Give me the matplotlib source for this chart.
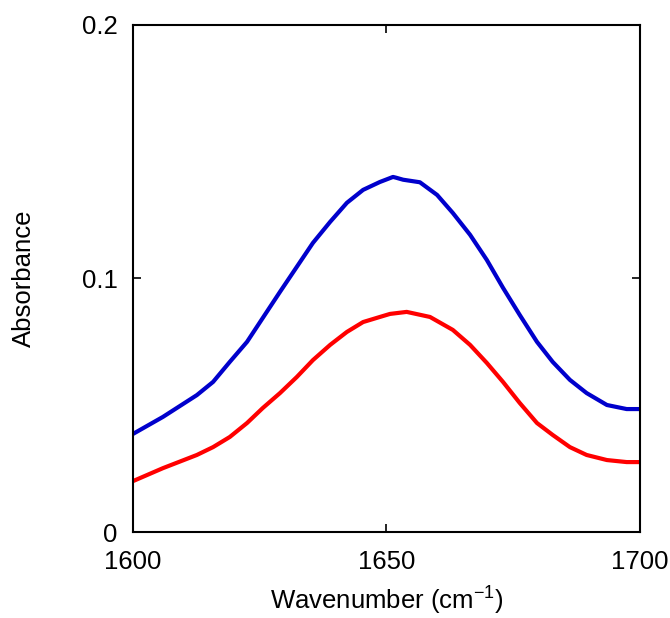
import numpy as np
import matplotlib

matplotlib.use('Agg')
import matplotlib.pyplot as plt

plt.rcParams['font.family'] = ['Liberation Sans', 'DejaVu Sans']
plt.rcParams['font.size'] = 18.5
plt.rcParams['mathtext.default'] = 'regular'
plt.rcParams['xtick.direction'] = 'in'
plt.rcParams['ytick.direction'] = 'in'
plt.rcParams['xtick.top'] = True
plt.rcParams['ytick.right'] = True
plt.rcParams['axes.linewidth'] = 1.5

# blue spectrum
wn_blue = [1600, 1605.9, 1612.6, 1615.8, 1619.1, 1622.5, 1625.6, 1629.0, 1632.3,
           1635.5, 1638.9, 1642.2, 1645.4, 1648.7, 1651.3, 1651.9, 1653.3, 1656.6,
           1660.0, 1663.1, 1666.5, 1669.8, 1673.0, 1676.3, 1679.7, 1682.8, 1686.2,
           1689.5, 1693.5, 1697.4, 1700]
abs_blue = [0.0387, 0.0454, 0.0540, 0.0592, 0.0671, 0.0750, 0.0844, 0.0947, 0.1045,
            0.1140, 0.1223, 0.1298, 0.1349, 0.1380, 0.1400, 0.1397, 0.1389, 0.1379,
            0.1329, 0.1258, 0.1172, 0.1073, 0.0963, 0.0856, 0.0750, 0.0671, 0.0600,
            0.0548, 0.0501, 0.0485, 0.0485]

# red spectrum
wn_red = [1600, 1605.9, 1612.6, 1615.8, 1619.1, 1622.5, 1625.6, 1629.0, 1632.3,
          1635.5, 1638.9, 1642.2, 1645.4, 1648.7, 1650.7, 1654.0, 1658.6, 1663.1,
          1666.5, 1669.8, 1673.0, 1676.3, 1679.7, 1682.8, 1686.2, 1689.5, 1693.5,
          1697.4, 1700]
abs_red = [0.0201, 0.0252, 0.0304, 0.0335, 0.0375, 0.0430, 0.0489, 0.0548, 0.0611,
           0.0678, 0.0738, 0.0789, 0.0828, 0.0848, 0.0860, 0.0868, 0.0848, 0.0797,
           0.0738, 0.0667, 0.0592, 0.0509, 0.0430, 0.0383, 0.0335, 0.0304, 0.0284,
           0.0276, 0.0276]

xticks = [1600, 1650, 1700]
yticks = [0, 0.1, 0.2]
ytick_labels = ['0', '0.1', '0.2']

fig = plt.figure(figsize=(6.7, 6.18), dpi=100)
ax = fig.add_axes([0.1985, 0.139, 0.7565, 0.821])

ax.plot(wn_blue, abs_blue, color='#0000cc', lw=3, solid_joinstyle='round')
ax.plot(wn_red, abs_red, color='#ff0000', lw=3, solid_joinstyle='round')

ax.set_xlim(1600, 1700)
ax.set_ylim(0, 0.2)
ax.set_xticks(xticks)
ax.set_yticks(yticks)
ax.set_yticklabels(ytick_labels)
ax.tick_params(axis='both', length=6, width=1.2)
ax.tick_params(axis='x', pad=13)
ax.tick_params(axis='y', pad=11)

ax.set_xlabel('Wavenumber (cm$^{-1}$)', labelpad=8)
ax.set_ylabel('Absorbance', labelpad=33)

fig.savefig('out.png', dpi=100)
